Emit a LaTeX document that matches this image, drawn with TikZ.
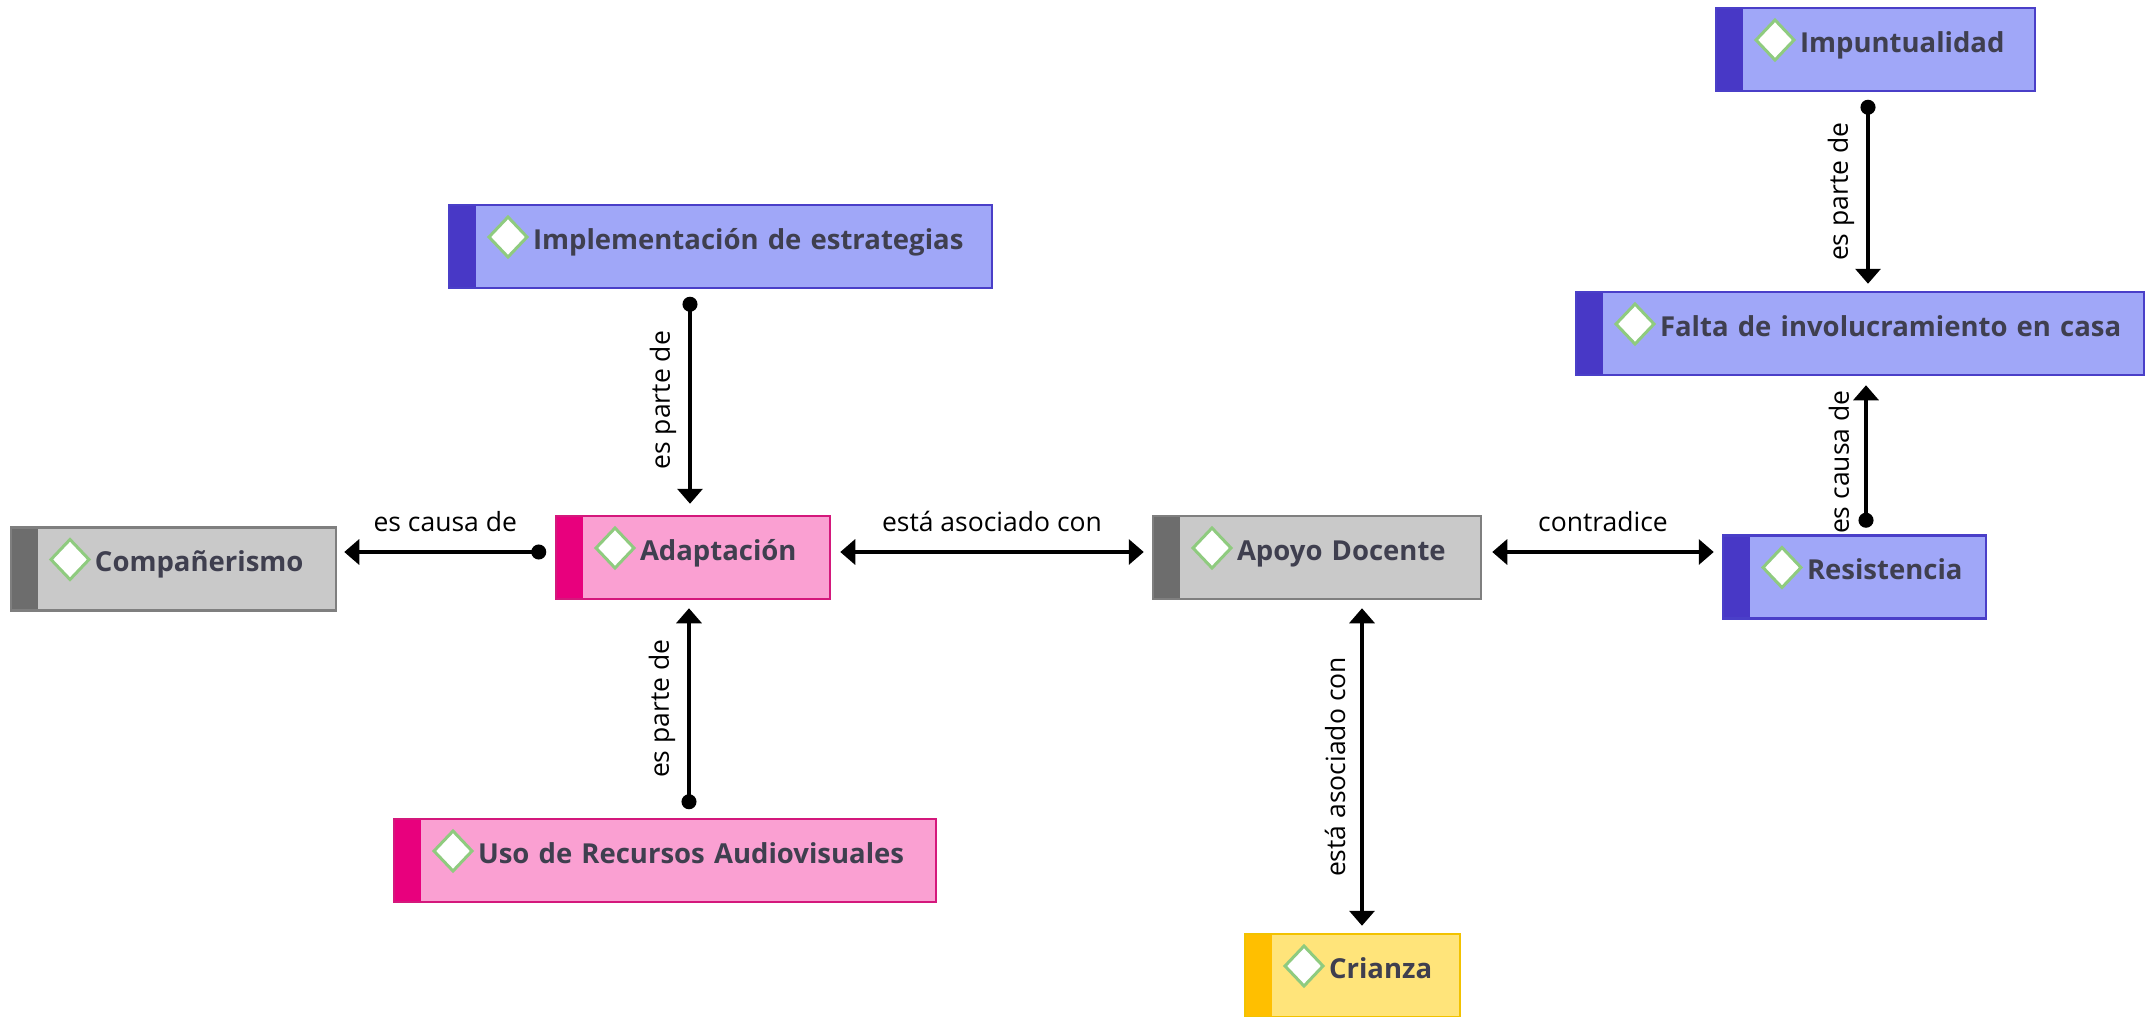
\documentclass[tikz,border=0pt]{standalone}
\usepackage{fontspec}
\setmainfont{Open Sans}
\usepackage{tikz}
\usetikzlibrary{arrows.meta}

\definecolor{grisfondo}{HTML}{C9C9C9}
\definecolor{grisborde}{HTML}{7F7F7F}
\definecolor{grisbanda}{HTML}{6D6D6D}
\definecolor{rosafondo}{HTML}{FAA0D2}
\definecolor{rosaborde}{HTML}{D4187C}
\definecolor{rosabanda}{HTML}{E8007D}
\definecolor{azulfondo}{HTML}{A0A7F8}
\definecolor{azulborde}{HTML}{4A3FC8}
\definecolor{azulbanda}{HTML}{4838C6}
\definecolor{amarillofondo}{HTML}{FFE47A}
\definecolor{amarilloborde}{HTML}{F2C200}
\definecolor{amarillobanda}{HTML}{FFBF00}
\definecolor{diamante}{HTML}{8FCB7F}
\definecolor{textonodo}{HTML}{3F3F4F}

\tikzset{
    punto/.tip={Circle[length=15pt]},
    icono/.style={draw=diamante, fill=white, line width=3pt},
    concepto/.style n args={3}{rectangle, fill=#1, draw=#2, line width=2.5pt,
        inner xsep=0pt, inner ysep=0pt, minimum height=83pt,
        text height=25pt, text depth=20pt, align=left, text=textonodo,
        font=\bfseries\fontsize{27.5}{34}\selectfont,
        execute at begin node={\hspace*{84pt}\hbox\bgroup},
        execute at end node={\egroup},
        path picture={
            \fill[#3] (path picture bounding box.north west) rectangle ([xshift=27pt]path picture bounding box.south west);
            \draw[icono] ([xshift=40pt,yshift=9.5pt]path picture bounding box.west) -- ++(19pt,20pt) -- ++(19pt,-20pt) -- ++(-19pt,-20pt) -- cycle;
        }},
    gris/.style={concepto={grisfondo}{grisborde}{grisbanda}},
    rosa/.style={concepto={rosafondo}{rosaborde}{rosabanda}},
    azul/.style={concepto={azulfondo}{azulborde}{azulbanda}},
    amarillo/.style={concepto={amarillofondo}{amarilloborde}{amarillobanda}},
    ancho/.style={text width=#1},
}

\begin{document}
\begin{tikzpicture}[
    x=1pt, y=-1pt,
    relacion/.style={line width=3.5pt},                          % connector lines
    etiqueta/.style={inner sep=0pt, font=\fontsize{26.5}{32}\selectfont}, % connector labels
    >={Triangle[width=25pt,length=15pt]}                          % arrowhead style
    ]

    \useasboundingbox[fill=white] (0,0) rectangle (2150,1017);

    % Concept boxes
    \node[gris, ancho=325pt] (companerismo) at (173.5,569) {Compañerismo};
    \node[rosa, ancho=274pt] (adaptacion) at (693,557.5) {Adaptación};
    \node[azul, ancho=543pt] (implementacion) at (720.5,246.5) {Implementación de estrategias};
    \node[rosa, ancho=542pt] (recursos) at (665,860.5) {Uso de Recursos Audiovisuales};
    \node[gris, ancho=328pt] (apoyo) at (1317,557.5) {Apoyo Docente};
    \node[amarillo, ancho=215pt] (crianza) at (1352.5,975.5) {Crianza};
    \node[azul, ancho=263pt] (resistencia) at (1854.5,577) {Resistencia};
    \node[azul, ancho=568pt] (falta) at (1860,333.5) {Falta de involucramiento en casa};
    \node[azul, ancho=319pt] (impuntualidad) at (1875.5,49.5) {Impuntualidad};

    % Horizontal relations
    \draw[relacion, punto->] ([xshift=-8.5pt,yshift=5.5pt]adaptacion.west) -- ([xshift=7pt,yshift=17pt]companerismo.east)
        node[etiqueta, midway, yshift=30pt] {es causa de};
    \draw[relacion, <->] ([xshift=9pt,yshift=5.5pt]adaptacion.east) -- ([xshift=-8pt,yshift=5.5pt]apoyo.west)
        node[etiqueta, midway, yshift=31pt] {está asociado con};
    \draw[relacion, <->] ([xshift=10pt,yshift=5.5pt]apoyo.east) -- ([xshift=-8pt,yshift=25pt]resistencia.west)
        node[etiqueta, midway, yshift=30pt] {contradice};

    % Vertical relations
    \draw[relacion, punto->] ([xshift=-30.5pt,yshift=-7.5pt]implementacion.south) -- ([xshift=-3pt,yshift=11pt]adaptacion.north)
        node[etiqueta, midway, xshift=-27pt, rotate=90] {es parte de};
    \draw[relacion, punto->] ([xshift=24pt,yshift=8.5pt]recursos.north) -- ([xshift=-4pt,yshift=-8pt]adaptacion.south)
        node[etiqueta, midway, xshift=-27pt, rotate=90] {es parte de};
    \draw[relacion, <->] ([xshift=45pt,yshift=-8pt]apoyo.south) -- ([xshift=9.5pt,yshift=7pt]crianza.north)
        node[etiqueta, midway, xshift=-27pt, rotate=90] {está asociado con};
    \draw[relacion, punto->] ([xshift=-7.5pt,yshift=-7.5pt]impuntualidad.south) -- ([xshift=8pt,yshift=7pt]falta.north)
        node[etiqueta, midway, xshift=-27pt, rotate=90] {es parte de};
    \draw[relacion, punto->] ([xshift=11.5pt,yshift=6.5pt]resistencia.north) -- ([xshift=6pt,yshift=-9pt]falta.south)
        node[etiqueta, pos=0.46, xshift=-27pt, rotate=90] {es causa de};

\end{tikzpicture}
\end{document}
